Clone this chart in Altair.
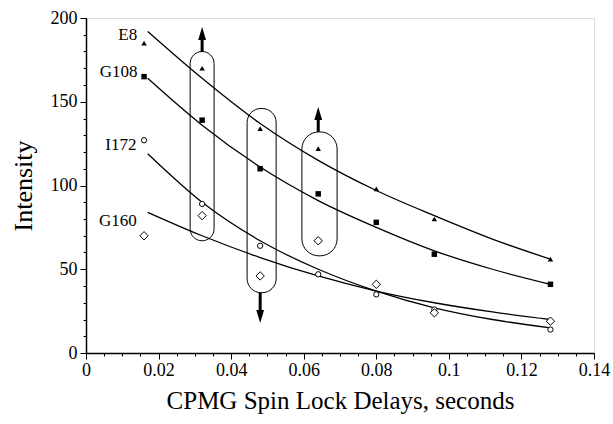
import altair as alt
import pandas as pd

# Measured data points
t = [0.016, 0.032, 0.048, 0.064, 0.080, 0.096, 0.128]
e8 = [185, 170, 134, 122, 98, 80, 56]
g108 = [165, 139, 110, 95, 78, 59, 41]
i172 = [127, 89, 64, 47, 35, 26, 14]
g160 = [70, 82, 46, 67, 41, 24, 19]

# Fitted curves
fit_t = [0.017, 0.032, 0.048, 0.064, 0.080, 0.096, 0.112, 0.128]
fit_e8 = [192, 164, 137, 115, 97, 82, 68, 56]
fit_g108 = [164, 136, 111, 91, 75, 61, 50, 41]
fit_i172 = [119, 90, 67, 50, 37, 27, 20, 15]
fit_g160 = [84, 70, 57, 46, 37, 30, 24.5, 20]

# Highlight ovals
oval_x1 = [0.0287, 0.0444, 0.0595]
oval_x2 = [0.0353, 0.0524, 0.0692]
oval_y1 = [67, 36, 58]
oval_y2 = [180, 146, 132]
oval_r = [12, 14, 17]

# Arrows
arrow_x = [0.032, 0.048, 0.064]
arrow_from = [180, 36, 132]
arrow_to = [188, 25, 140]
arrow_head = [190.8, 21.8, 143]
arrow_dir = ["M0,-1L0.6,1L-0.6,1Z", "M0,1L0.6,-1L-0.6,-1Z", "M0,-1L0.6,1L-0.6,1Z"]

# Series labels
lab_text = ["E8", "G108", "I172", "G160"]
lab_x = [0.0141, 0.0142, 0.0139, 0.0140]
lab_y = [190, 168, 124, 79]

FONT = "Liberation Serif"

xs = alt.Scale(domain=[0, 0.14], nice=False, zero=False)
ys = alt.Scale(domain=[0, 200], nice=False)

def fitdf(vals):
    return pd.DataFrame({"t": fit_t, "v": vals})

def ptdf(vals):
    return pd.DataFrame({"t": t, "v": vals})

x_axis = alt.Axis(values=[0, 0.02, 0.04, 0.06, 0.08, 0.1, 0.12, 0.14], format=".2~f",
                  title="CPMG Spin Lock Delays, seconds", grid=False, tickSize=6,
                  labelFontSize=18, titleFontSize=25, titleFontWeight="normal",
                  labelFont=FONT, titleFont=FONT, labelColor="black", titleColor="black",
                  domainColor="black", tickColor="black", domainWidth=1.5,
                  labelPadding=2, titlePadding=9, labelFlush=False)
y_axis = alt.Axis(values=[0, 50, 100, 150, 200], title="Intensity", grid=False, tickSize=6,
                  labelFontSize=18, titleFontSize=26, titleFontWeight="normal",
                  labelFont=FONT, titleFont=FONT, labelColor="black", titleColor="black",
                  domainColor="black", tickColor="black", domainWidth=1.5,
                  labelPadding=3, titlePadding=14)

base_x = alt.X("t:Q", scale=xs, axis=x_axis)
base_y = alt.Y("v:Q", scale=ys, axis=y_axis)

layers = []

# curves
for vals in [fit_e8, fit_g108, fit_i172, fit_g160]:
    layers.append(alt.Chart(fitdf(vals)).mark_line(color="black", strokeWidth=1.3,
                  interpolate="monotone").encode(x=base_x, y=base_y))

# ovals
for i in range(3):
    odf = pd.DataFrame({"t": [oval_x1[i]], "t2": [oval_x2[i]], "v": [oval_y1[i]], "v2": [oval_y2[i]]})
    layers.append(alt.Chart(odf).mark_rect(fillOpacity=0, stroke="black", strokeWidth=1,
                  cornerRadius=oval_r[i]).encode(x=base_x, x2="t2:Q", y=base_y, y2="v2:Q"))

# points
layers.append(alt.Chart(ptdf(e8)).mark_point(shape="triangle-up", filled=True, color="black",
              size=30, opacity=1).encode(x=base_x, y=base_y))
layers.append(alt.Chart(ptdf(g108)).mark_point(shape="square", filled=True, color="black",
              size=30, opacity=1).encode(x=base_x, y=base_y))
layers.append(alt.Chart(ptdf(i172)).mark_point(shape="circle", filled=True, fill="white",
              stroke="black", strokeWidth=1, size=28, opacity=1).encode(x=base_x, y=base_y))
layers.append(alt.Chart(ptdf(g160)).mark_point(shape="diamond", filled=True, fill="white",
              stroke="black", strokeWidth=1, size=70, opacity=1).encode(x=base_x, y=base_y))

# arrows
adf = pd.DataFrame({"t": arrow_x, "v": arrow_from, "v2": arrow_to, "h": arrow_head, "s": arrow_dir})
layers.append(alt.Chart(adf).mark_rule(color="black", strokeWidth=3).encode(
    x=base_x, y=base_y, y2="v2:Q"))
layers.append(alt.Chart(adf).mark_point(filled=True, color="black", size=170, opacity=1).encode(
    x=base_x, y=alt.Y("h:Q", scale=ys, axis=y_axis),
    shape=alt.Shape("s:N", scale=None, legend=None)))

# labels
ldf = pd.DataFrame({"t": lab_x, "v": lab_y, "txt": lab_text})
layers.append(alt.Chart(ldf).mark_text(align="right", baseline="middle", font=FONT, fontSize=17,
              color="black").encode(x=base_x, y=base_y, text="txt:N"))

main = alt.layer(*layers)

# minor ticks layer
mdf = pd.DataFrame({"t": [0.0], "v": [0.0]})
minor = alt.Chart(mdf).mark_point(opacity=0).encode(
    x=alt.X("t:Q", scale=xs, axis=alt.Axis(orient="bottom",
            values=[i * 0.005 for i in range(29)], labels=False, domain=False, title=None,
            tickSize=3, tickColor="black", grid=False)),
    y=alt.Y("v:Q", scale=ys, axis=alt.Axis(orient="left",
            values=list(range(0, 201, 10)), labels=False, domain=False, title=None,
            tickSize=3, tickColor="black", grid=False)),
)

chart = alt.layer(main, minor).resolve_axis(x="independent", y="independent").properties(
    width=508, height=335,
    autosize=alt.AutoSizeParams(type="none"),
    padding={"left": 86, "top": 18, "right": 19, "bottom": 71},
).configure_view(stroke="black", strokeWidth=2).configure(background="white")

chart.save("out.html", embed_options={"renderer": "svg", "actions": False})
